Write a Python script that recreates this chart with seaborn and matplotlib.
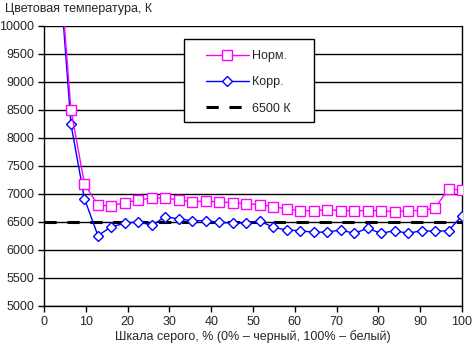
import numpy as np
import pandas as pd
import matplotlib
matplotlib.use("Agg")
import matplotlib.pyplot as plt
from matplotlib.patches import Rectangle
import seaborn as sns

# Data
steps = list(range(1, 32))
norm = [11600, 8500, 7180, 6800, 6790, 6845, 6893, 6929, 6929, 6893, 6863, 6875,
        6857, 6845, 6827, 6810, 6774, 6732, 6702, 6702, 6720, 6702, 6702, 6702,
        6702, 6685, 6702, 6702, 6750, 7095, 7065]
corr = [11450, 8245, 6917, 6256, 6417, 6476, 6506, 6440, 6595, 6554, 6524, 6524,
        6494, 6482, 6482, 6518, 6405, 6357, 6345, 6316, 6321, 6357, 6298, 6387,
        6298, 6345, 6298, 6345, 6333, 6345, 6613]
ref_value = 6500
series_names = ["Норм.", "Корр.", "6500 К"]
yticks = list(range(5000, 10001, 500))
xticks = list(range(0, 101, 10))

x = [k * 100 / 31 for k in steps]
df = pd.DataFrame({"x": x, "norm": norm, "corr": corr})

sns.set_style("white")
plt.rcParams["font.family"] = ["Liberation Sans", "DejaVu Sans"]

W, H = 472, 349
fig = plt.figure(figsize=(W / 100, H / 100), dpi=100)
ax = fig.add_axes([44 / W, 1 - 306 / H, 418 / W, 280 / H])

for yv in yticks:
    ax.axhline(yv, color="black", lw=1, zorder=1)

sns.lineplot(data=df, x="x", y="norm", ax=ax, color="#ff00ff", lw=1,
             marker="s", markersize=6.5, markerfacecolor="white",
             markeredgecolor="#ff00ff", markeredgewidth=1, label=series_names[0],
             zorder=4)
sns.lineplot(data=df, x="x", y="corr", ax=ax, color="#0000ff", lw=1,
             marker="D", markersize=5.5, markerfacecolor="white",
             markeredgecolor="#0000ff", markeredgewidth=1, label=series_names[1],
             zorder=3)
ax.axhline(ref_value, color="black", lw=2.2, ls=(0, (4, 3.5)), zorder=2,
           label=series_names[2])

ax.set_xlim(0, 100)
ax.set_ylim(5000, 10000)
ax.set_xticks(xticks)
ax.set_yticks(yticks)
ax.tick_params(axis="both", labelsize=9, length=4, width=1, direction="out",
               color="black", pad=3, left=True, bottom=True)
ax.set_xlabel("Шкала серого, % (0% – черный, 100% – белый)", fontsize=9, labelpad=2)
ax.set_ylabel("")
for s in ["left", "bottom", "right"]:
    ax.spines[s].set_visible(True)
    ax.spines[s].set_color("black")
    ax.spines[s].set_linewidth(1)
ax.spines["top"].set_visible(False)

fig.text(5 / W, 1 - 3 / H, "Цветовая температура, К", fontsize=9,
         ha="left", va="top")

# legend box (frame drawn separately to match proportions)
box = Rectangle((184 / W, 1 - 122 / H), 130 / W, 83 / H, transform=fig.transFigure,
                facecolor="white", edgecolor="black", lw=1, zorder=5, clip_on=False)
ax.add_patch(box)
leg = ax.legend(loc="upper left", bbox_to_anchor=(206 / W, 1 - 50 / H),
                bbox_transform=fig.transFigure,
                frameon=False, fontsize=9, handlelength=3.4,
                labelspacing=1.15, borderpad=0.0, handletextpad=0.25,
                borderaxespad=0)
leg.set_zorder(6)

fig.savefig("out.png", dpi=100)
